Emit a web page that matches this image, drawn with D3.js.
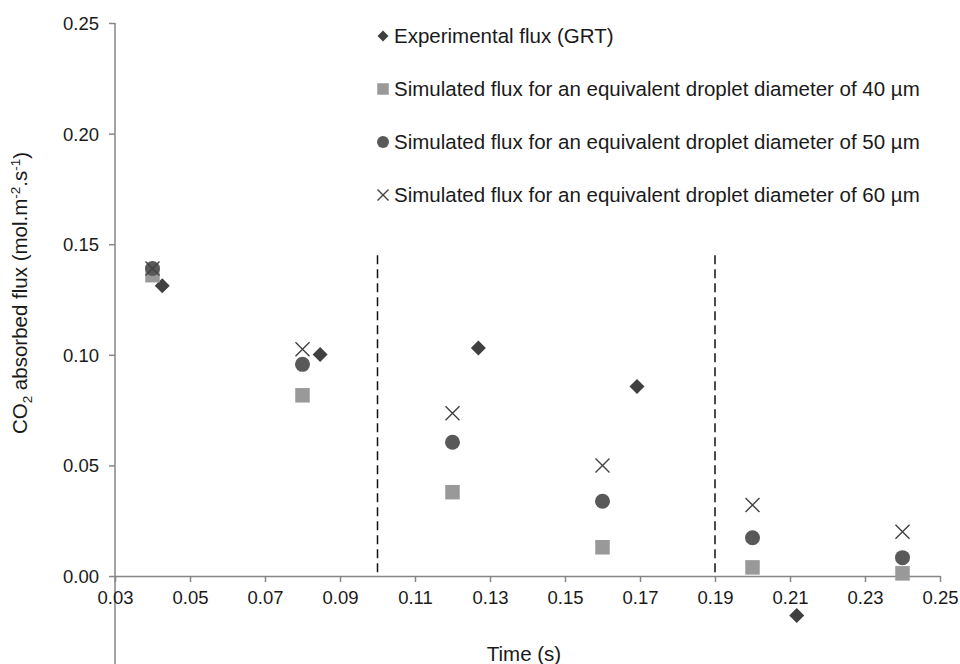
<!DOCTYPE html>
<html>
<head>
<meta charset="utf-8">
<script src="https://cdn.jsdelivr.net/npm/d3@7"></script>
<style>
  html, body { margin: 0; padding: 0; background: #fff; }
  svg { display: block; font-family: "Liberation Sans", Arial, sans-serif; }
</style>
</head>
<body>
<svg id="chart" width="960" height="664"></svg>
<script>
// Measurement times (s) for each series
const expTime = [0.0426, 0.0847, 0.1269, 0.1692, 0.2118];
const expFlux = [0.1312, 0.1001, 0.1031, 0.0857, -0.0179];

const simTime = [0.04, 0.08, 0.12, 0.16, 0.20, 0.24];
const sim40 = [0.1360, 0.0817, 0.0379, 0.0130, 0.0039, 0.0012];
const sim50 = [0.1390, 0.0957, 0.0605, 0.0338, 0.0173, 0.0083];
const sim60 = [0.1390, 0.1025, 0.0736, 0.0500, 0.0321, 0.0200];

// Phase boundaries (s)
const boundaries = [0.10, 0.19];
const boundaryTop = 0.145;

const xTicks = [0.03, 0.05, 0.07, 0.09, 0.11, 0.13, 0.15, 0.17, 0.19, 0.21, 0.23, 0.25];
const yTicks = [0.00, 0.05, 0.10, 0.15, 0.20, 0.25];

const legendLabels = [
  "Experimental flux (GRT)",
  "Simulated flux for an equivalent droplet diameter of 40 µm",
  "Simulated flux for an equivalent droplet diameter of 50 µm",
  "Simulated flux for an equivalent droplet diameter of 60 µm"
];

const svg = d3.select("#chart");
const x = d3.scaleLinear().domain([0.03, 0.25]).range([115, 940]);
const y = d3.scaleLinear().domain([-0.04, 0.25]).range([664.5, 23]);

const axisColor = "#868686";
const textColor = "#1a1a1a";

// Y axis
const yAxis = svg.append("g")
  .attr("transform", `translate(${x(0.03)},0)`)
  .call(d3.axisLeft(y).tickValues(yTicks).tickFormat(d3.format(".2f")).tickSize(6).tickSizeOuter(0));
yAxis.select(".domain").attr("stroke", axisColor).attr("stroke-width", 1.5)
  .attr("d", `M0,${y(0.25)}V${y(-0.04)}`);
yAxis.selectAll(".tick line").attr("stroke", axisColor).attr("stroke-width", 1.5);
yAxis.selectAll(".tick text").attr("x", -16).attr("dy", "0.35em")
  .attr("font-size", 18.5).attr("fill", textColor).attr("font-family", "Liberation Sans, Arial, sans-serif");

// X axis along zero line
const xAxis = svg.append("g")
  .attr("transform", `translate(0,${y(0)})`)
  .call(d3.axisBottom(x).tickValues(xTicks).tickFormat(d3.format(".2f")).tickSize(6).tickSizeOuter(0));
xAxis.select(".domain").attr("stroke", axisColor).attr("stroke-width", 1.5);
xAxis.selectAll(".tick line").attr("stroke", axisColor).attr("stroke-width", 1.5);
xAxis.selectAll(".tick text").attr("y", 22).attr("dy", "0.35em")
  .attr("font-size", 18.5).attr("fill", textColor).attr("font-family", "Liberation Sans, Arial, sans-serif");

// Dashed phase boundaries
svg.append("g").selectAll("line").data(boundaries).join("line")
  .attr("x1", d => x(d)).attr("x2", d => x(d))
  .attr("y1", y(boundaryTop)).attr("y2", y(0))
  .attr("stroke", "#111").attr("stroke-width", 1.5)
  .attr("stroke-dasharray", "9,5");

// Marker drawing helpers
const diamond = d3.symbol().type(d3.symbolDiamond2);
function drawDiamond(g, cx, cy, r) {
  g.append("path").attr("transform", `translate(${cx},${cy})`)
    .attr("d", `M0,${-r}L${r},0L0,${r}L${-r},0Z`).attr("fill", "#404040");
}
function drawSquare(g, cx, cy, s) {
  g.append("rect").attr("x", cx - s / 2).attr("y", cy - s / 2)
    .attr("width", s).attr("height", s).attr("fill", "#999999");
}
function drawCircle(g, cx, cy, r) {
  g.append("circle").attr("cx", cx).attr("cy", cy).attr("r", r).attr("fill", "#595959");
}
function drawCross(g, cx, cy, h) {
  g.append("path").attr("d", `M${cx - h},${cy - h}L${cx + h},${cy + h}M${cx + h},${cy - h}L${cx - h},${cy + h}`)
    .attr("stroke", "#404040").attr("stroke-width", 1.4).attr("fill", "none");
}

const marks = svg.append("g");
expTime.forEach((t, i) => drawDiamond(marks, x(t), y(expFlux[i]), 7.5));
simTime.forEach((t, i) => drawSquare(marks, x(t), y(sim40[i]), 14.5));
simTime.forEach((t, i) => drawCircle(marks, x(t), y(sim50[i]), 7.5));
simTime.forEach((t, i) => drawCross(marks, x(t), y(sim60[i]), 7));

// Legend
const legend = svg.append("g");
const legendY = [36, 89, 142, 195];
const lx = 383;
drawDiamond(legend, lx, legendY[0], 5.5);
drawSquare(legend, lx, legendY[1], 11.5);
drawCircle(legend, lx, legendY[2], 6);
drawCross(legend, lx, legendY[3], 5.5);
legend.selectAll("text").data(legendLabels).join("text")
  .attr("x", 394).attr("y", (d, i) => legendY[i]).attr("dy", "0.35em")
  .attr("font-size", 20.5).attr("fill", textColor)
  .text(d => d);

// Axis titles
svg.append("text")
  .attr("x", 524).attr("y", 654).attr("dy", "0.35em")
  .attr("text-anchor", "middle").attr("font-size", 20.5).attr("fill", textColor)
  .text("Time (s)");

const yTitle = svg.append("text")
  .attr("transform", "translate(20,293) rotate(-90)")
  .attr("text-anchor", "middle").attr("dy", "0.35em")
  .attr("font-size", 20.5).attr("fill", textColor);
yTitle.append("tspan").text("CO");
yTitle.append("tspan").attr("font-size", 13.5).attr("dy", "0.35em").text("2");
yTitle.append("tspan").attr("dy", "-0.25em").text(" absorbed flux (mol.m");
yTitle.append("tspan").attr("font-size", 13.5).attr("dy", "-0.5em").text("-2");
yTitle.append("tspan").attr("dy", "0.35em").text(".s");
yTitle.append("tspan").attr("font-size", 13.5).attr("dy", "-0.5em").text("-1");
yTitle.append("tspan").attr("dy", "0.35em").text(")");
</script>
</body>
</html>
